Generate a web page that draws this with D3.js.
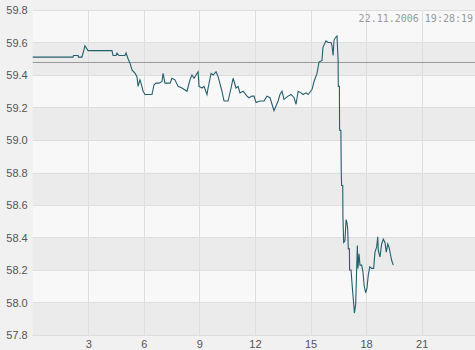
<!DOCTYPE html>
<html>
<head>
<meta charset="utf-8">
<script src="https://cdn.jsdelivr.net/npm/d3@7"></script>
<style>
  body { margin: 0; background: #f1f1f1; }
  svg { display: block; }
</style>
</head>
<body>
<div id="d3-container"></div>
<script>
// intraday quote, hours of the day vs price
const hours = [0.0, 2.18, 2.20, 2.45, 2.47, 2.66, 2.82, 2.99, 4.28, 4.34, 4.50, 4.55, 4.66, 4.98, 5.04,
  5.15, 5.26, 5.37, 5.53, 5.63, 5.69, 5.79, 5.85, 5.96, 6.06, 6.44, 6.55, 6.66, 6.82, 6.98,
  7.04, 7.14, 7.42, 7.52, 7.68, 7.85, 8.06, 8.33, 8.49, 8.60, 8.71, 8.93, 8.98, 9.14, 9.25,
  9.41, 9.47, 9.63, 9.74, 9.90, 10.01, 10.22, 10.33, 10.55, 10.71, 10.82, 10.98, 11.09, 11.19, 11.36,
  11.57, 11.68, 11.84, 11.95, 12.06, 12.27, 12.49, 12.65, 12.81, 13.03, 13.25, 13.35, 13.46, 13.57, 13.79,
  13.95, 14.11, 14.22, 14.33, 14.49, 14.60, 14.76, 14.87, 15.08, 15.19, 15.35, 15.46, 15.62, 15.67, 15.84,
  15.94, 16.11, 16.16, 16.22, 16.27, 16.38, 16.43, 16.49, 16.50, 16.56, 16.57, 16.64, 16.66, 16.68, 16.74,
  16.75, 16.79, 16.86, 16.92, 16.97, 17.01, 17.04, 17.10, 17.11, 17.19, 17.22, 17.28, 17.35, 17.37, 17.44,
  17.49, 17.53, 17.56, 17.62, 17.67, 17.76, 17.83, 17.90, 17.98, 18.05, 18.12, 18.20, 18.30, 18.41, 18.48,
  18.57, 18.63, 18.66, 18.75, 18.84, 18.93, 19.02, 19.09, 19.17, 19.24, 19.31, 19.38, 19.47];
const prices = [59.51, 59.51, 59.52, 59.52, 59.51, 59.51, 59.58, 59.55, 59.55, 59.52, 59.52, 59.535, 59.52, 59.52, 59.535,
  59.50, 59.47, 59.43, 59.41, 59.39, 59.33, 59.37, 59.35, 59.30, 59.28, 59.28, 59.34, 59.35, 59.35, 59.36,
  59.41, 59.35, 59.35, 59.38, 59.37, 59.33, 59.32, 59.30, 59.37, 59.40, 59.38, 59.42, 59.33, 59.32, 59.33,
  59.28, 59.32, 59.41, 59.40, 59.42, 59.39, 59.30, 59.24, 59.24, 59.32, 59.38, 59.32, 59.33, 59.29, 59.30,
  59.27, 59.26, 59.27, 59.27, 59.23, 59.24, 59.24, 59.27, 59.26, 59.18, 59.24, 59.28, 59.30, 59.25, 59.27,
  59.28, 59.26, 59.22, 59.30, 59.29, 59.28, 59.29, 59.28, 59.31, 59.36, 59.41, 59.48, 59.49, 59.57, 59.61,
  59.60, 59.60, 59.58, 59.52, 59.615, 59.635, 59.64, 59.49, 59.33, 59.33, 59.06, 59.06, 58.80, 58.72, 58.72,
  58.53, 58.37, 58.38, 58.51, 58.49, 58.45, 58.33, 58.33, 58.20, 58.20, 58.15, 58.06, 57.97, 57.935, 57.99,
  58.20, 58.35, 58.21, 58.30, 58.23, 58.23, 58.19, 58.10, 58.06, 58.09, 58.17, 58.22, 58.21, 58.21, 58.31,
  58.34, 58.405, 58.32, 58.28, 58.36, 58.39, 58.37, 58.31, 58.36, 58.34, 58.30, 58.26, 58.23];
const prevClose = 59.48;
const xTicks = [3, 6, 9, 12, 15, 18, 21];
const yTicks = [57.8, 58.0, 58.2, 58.4, 58.6, 58.8, 59.0, 59.2, 59.4, 59.6, 59.8];
const stamp = "22.11.2006 19:28:19";

let W = 475, H = 350;
let margin = { top: 10, left: 32.7, right: -2.2, bottom: 15 };

let svg1 = d3.select('#d3-container')
  .append('svg')
  .attr('width', W)
  .attr('height', H);

const x = d3.scaleLinear()
  .domain([0, 24])
  .range([margin.left, W - margin.right]);

const y = d3.scaleLinear()
  .domain([57.8, 59.8])
  .range([H - margin.bottom, margin.top]);

// alternating bands, grey on every other 0.2 step
svg1.append("g")
  .selectAll("rect")
  .data(yTicks.slice(0, -1))
  .join("rect")
    .attr("x", x(0))
    .attr("y", (d, i) => y(yTicks[i + 1]))
    .attr("width", W - x(0))
    .attr("height", (d, i) => y(d) - y(yTicks[i + 1]))
    .attr("fill", (d, i) => i % 2 === 0 ? "#ebebeb" : "#f8f8f8");

// grid
svg1.append("g")
  .selectAll("line")
  .data(yTicks)
  .join("line")
    .attr("x1", x(0)).attr("x2", W)
    .attr("y1", d => Math.round(y(d)) + 0.5)
    .attr("y2", d => Math.round(y(d)) + 0.5)
    .attr("stroke", "#dedede");

svg1.append("g")
  .selectAll("line")
  .data(xTicks)
  .join("line")
    .attr("x1", d => Math.round(x(d)) + 0.5)
    .attr("x2", d => Math.round(x(d)) + 0.5)
    .attr("y1", y(59.8)).attr("y2", y(57.8))
    .attr("stroke", "#dedede");

// axis labels
svg1.append("g")
  .attr("transform", `translate(${x(0) - 2}, 0)`)
  .call(d3.axisLeft(y).tickValues(yTicks).tickFormat(d3.format(".1f")).tickSize(0))
  .call(g => g.select(".domain").remove())
  .selectAll("text")
    .attr("fill", "#555")
    .style("font", "11px 'Liberation Sans', Arial, sans-serif");

svg1.append("g")
  .attr("transform", `translate(0, ${y(57.8) + 2})`)
  .call(d3.axisBottom(x).tickValues(xTicks).tickSize(0))
  .call(g => g.select(".domain").remove())
  .selectAll("text")
    .attr("fill", "#555")
    .style("font", "11px 'Liberation Sans', Arial, sans-serif");

// previous close
svg1.append("line")
  .attr("x1", x(0)).attr("x2", W)
  .attr("y1", Math.round(y(prevClose)) + 0.5)
  .attr("y2", Math.round(y(prevClose)) + 0.5)
  .attr("stroke", "#999");

// price line
const line = d3.line()
  .x((d, i) => x(hours[i]))
  .y(d => y(d));

svg1.append("path")
  .datum(prices)
  .attr("d", line)
  .attr("fill", "none")
  .attr("stroke", "#245f6e")
  .attr("stroke-width", 1.1);

svg1.append("text")
  .attr("x", 473)
  .attr("y", 22)
  .attr("text-anchor", "end")
  .attr("fill", "#999")
  .style("font", "10px 'DejaVu Sans Mono', monospace")
  .text(stamp);
</script>
</body>
</html>
